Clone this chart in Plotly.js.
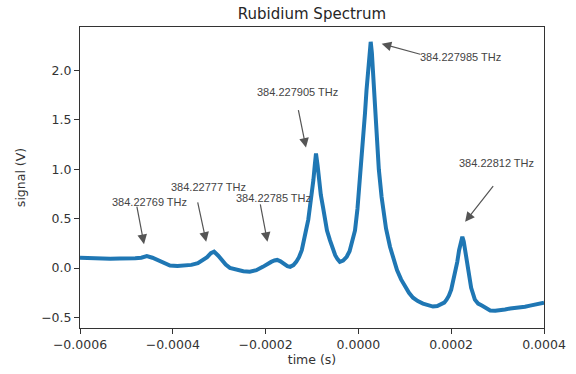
<!DOCTYPE html>
<html>
<head>
<meta charset="utf-8">
<script src="https://cdn.plot.ly/plotly-3.0.1.min.js"></script>
<style>html,body{margin:0;padding:0;background:#fff;}#chart{width:576px;height:374px;}</style>
</head>
<body>
<div id="chart"></div>
<script>
// time (s)
const timeS = [
  -0.000600, -0.000578, -0.000557, -0.000535, -0.000514, -0.000497, -0.000481, -0.000468,
  -0.000456, -0.000444, -0.000432, -0.000419, -0.000406, -0.000390, -0.000374, -0.000360,
  -0.000346, -0.000336, -0.000326, -0.000318, -0.000311, -0.000302, -0.000294, -0.000286,
  -0.000277, -0.000262, -0.000248, -0.000234, -0.000220, -0.000206, -0.000197, -0.000188,
  -0.000181, -0.000175, -0.000168, -0.000160, -0.000153, -0.000147, -0.000140, -0.000134,
  -0.000128, -0.000122, -0.000117, -0.000113, -0.000108, -0.000104, -0.000100, -0.000097,
  -0.000094, -0.0000914, -0.000088, -0.000085, -0.000081, -0.0000763, -0.000072, -0.0000677,
  -0.0000612, -0.000056, -0.000050, -0.000045, -0.000040, -0.000033, -0.0000252, -0.000019,
  -0.0000138, -0.0000073, -0.000002, 0.0000034, 0.000009, 0.0000142, 0.0000175, 0.0000207,
  0.0000236, 0.0000265, 0.000029, 0.0000315, 0.000035, 0.0000379, 0.000044, 0.000050,
  0.0000595, 0.0000681, 0.0000756, 0.0000832, 0.000092, 0.0001004, 0.000109, 0.0001177,
  0.000128, 0.0001392, 0.000150, 0.0001608, 0.000170, 0.000178, 0.000185, 0.000190,
  0.000195, 0.000200, 0.000204, 0.000208, 0.000213, 0.000217, 0.000221, 0.000224,
  0.000227, 0.000230, 0.000233, 0.000236, 0.000243, 0.000251, 0.000258, 0.000266,
  0.000275, 0.000284, 0.000295, 0.000305, 0.000316, 0.000327, 0.000338, 0.000348,
  0.000359, 0.000370, 0.000385, 0.000400
];
// signal (V)
const signalV = [
  0.104, 0.098, 0.100, 0.094, 0.096, 0.092, 0.098, 0.104,
  0.120, 0.104, 0.080, 0.050, 0.025, 0.020, 0.022, 0.032,
  0.050, 0.075, 0.110, 0.150, 0.165, 0.125, 0.080, 0.035,
  0.002, -0.020, -0.032, -0.037, -0.022, 0.012, 0.040, 0.062,
  0.076, 0.082, 0.068, 0.040, 0.020, 0.012, 0.030, 0.062,
  0.110, 0.180, 0.270, 0.380, 0.490, 0.616, 0.760, 0.890,
  1.040, 1.160, 1.040, 0.890, 0.740, 0.616, 0.480, 0.380,
  0.280, 0.195, 0.130, 0.090, 0.062, 0.075, 0.114, 0.170,
  0.250, 0.380, 0.600, 0.890, 1.220, 1.566, 1.800, 2.000,
  2.180, 2.290, 2.180, 2.000, 1.700, 1.390, 1.000, 0.720,
  0.400, 0.215, 0.085, -0.020, -0.115, -0.190, -0.250, -0.300,
  -0.335, -0.360, -0.378, -0.390, -0.385, -0.370, -0.350, -0.320,
  -0.280, -0.220, -0.140, -0.050, 0.060, 0.180, 0.270, 0.316,
  0.270, 0.180, 0.070, -0.020, -0.200, -0.320, -0.360, -0.380,
  -0.405, -0.430, -0.432, -0.430, -0.420, -0.410, -0.405, -0.400,
  -0.392, -0.380, -0.365, -0.350
];
// annotation labels and positions (head x/y, tail x/y, label x/y)
const labels = ["384.22769 THz", "384.22777 THz", "384.22785 THz", "384.227905 THz", "384.227985 THz", "384.22812 THz"];
const headX = [-0.000462, -0.000328, -0.000196, -0.000113, 0.0000502, 0.000230];
const headY = [0.242, 0.266, 0.266, 1.219, 2.270, 0.468];
const tailX = [-0.000478, -0.000347, -0.000212, -0.000130, 0.0001364, 0.000293];
const tailY = [0.636, 0.680, 0.660, 1.613, 2.160, 0.845];
const textX = [-0.000451, -0.000324, -0.000182, -0.000132, 0.000221, 0.000297];
const textY = [0.670, 0.820, 0.710, 1.780, 2.134, 1.064];

const font = "DejaVu Sans, sans-serif";
const annotations = [];
for (let i = 0; i < labels.length; i++) {
  annotations.push({
    x: headX[i], y: headY[i], xref: 'x', yref: 'y',
    ax: tailX[i], ay: tailY[i], axref: 'x', ayref: 'y',
    text: '', showarrow: true, arrowhead: 2, arrowsize: 1.6, arrowwidth: 1.2,
    arrowcolor: '#555555', standoff: 0, startstandoff: 0
  });
  annotations.push({
    x: textX[i], y: textY[i], xref: 'x', yref: 'y',
    text: labels[i], showarrow: false,
    font: {family: "Liberation Sans, Arial, sans-serif", size: 11, color: '#444444'},
    xanchor: 'center', yanchor: 'middle'
  });
}

const trace = {
  x: timeS, y: signalV, type: 'scatter', mode: 'lines',
  line: {color: '#1f77b4', width: 4, shape: 'linear'},
  hoverinfo: 'skip'
};

const axisCommon = {
  showgrid: false, zeroline: false, showline: true, mirror: true,
  linecolor: '#333333', linewidth: 1,
  ticks: 'outside', ticklen: 5, tickwidth: 1, tickcolor: '#333333',
  tickfont: {family: font, size: 12.5, color: '#333333'}
};

const layout = {
  width: 576, height: 374,
  margin: {l: 80, r: 32, t: 27, b: 46},
  paper_bgcolor: '#ffffff', plot_bgcolor: '#ffffff',
  showlegend: false,
  title: {text: 'Rubidium Spectrum', font: {family: font, size: 15, color: '#262626'},
          x: 0.5416, xanchor: 'center', y: 0.962, yanchor: 'middle'},
  xaxis: Object.assign({}, axisCommon, {
    range: [-0.0006, 0.0004], dtick: 0.0002, tick0: 0, tickformat: '.4f',
    title: {text: 'time (s)', font: {family: font, size: 12.5, color: '#333333'}, standoff: 4}
  }),
  yaxis: Object.assign({}, axisCommon, {
    range: [-0.607, 2.44], dtick: 0.5, tick0: 0, tickformat: '.1f',
    title: {text: 'signal (V)', font: {family: font, size: 12.5, color: '#333333'}, standoff: 12}
  }),
  annotations: annotations
};

Plotly.newPlot('chart', [trace], layout, {displayModeBar: false, staticPlot: true});
</script>
</body>
</html>
